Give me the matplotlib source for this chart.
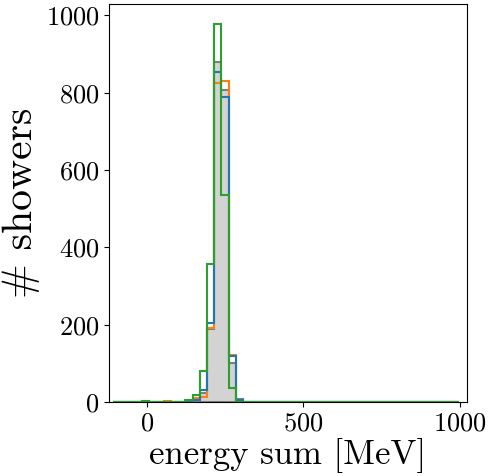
import numpy as np
import matplotlib
matplotlib.use("Agg")
import matplotlib.pyplot as plt

# bin edges [MeV] and counts per bin for each sample
edges = -106.5 + 23 * np.arange(49)
bins_idx = [4, 7, 10, 11, 12, 13, 14, 15, 16, 17]
gray_counts = [0, 0, 0, 5, 22, 190, 879, 806, 100, 8]
blue_counts = [0, 0, 0, 5, 31, 205, 853, 789, 119, 4]
orange_counts = [0, 2, 0, 10, 14, 191, 826, 831, 121, 3]
green_counts = [3, 0, 4, 18, 81, 357, 978, 536, 35, 0]

centers = 0.5 * (edges[:-1] + edges[1:])
x = centers[bins_idx]

plt.rcParams['font.family'] = 'serif'
plt.rcParams['font.serif'] = ['cmr10', 'DejaVu Serif']
plt.rcParams['mathtext.fontset'] = 'cm'
plt.rcParams['axes.formatter.use_mathtext'] = True

fig = plt.figure(figsize=(4.99, 4.76), dpi=100)
ax = fig.add_axes([0.2184, 0.1555, 0.7166, 0.8355])

ax.hist(x, bins=edges, weights=gray_counts, histtype='stepfilled',
        facecolor='lightgray', edgecolor='tab:gray', linewidth=1.5)
ax.hist(x, bins=edges, weights=orange_counts, histtype='step', color='tab:orange', linewidth=1.5)
ax.hist(x, bins=edges, weights=blue_counts, histtype='step', color='tab:blue', linewidth=1.5)
ax.hist(x, bins=edges, weights=green_counts, histtype='step', color='tab:green', linewidth=1.5)

ax.set_xlim(-120, 1021)
ax.set_ylim(0, 1029)
ax.set_xticks([0, 500, 1000])
ax.set_yticks([0, 200, 400, 600, 800, 1000])
ax.tick_params(labelsize=19)
ax.set_xlabel("energy sum [MeV]", fontsize=25, labelpad=2)
ax.set_ylabel("# showers", fontsize=30, labelpad=4)

fig.savefig("out.png", dpi=100)
